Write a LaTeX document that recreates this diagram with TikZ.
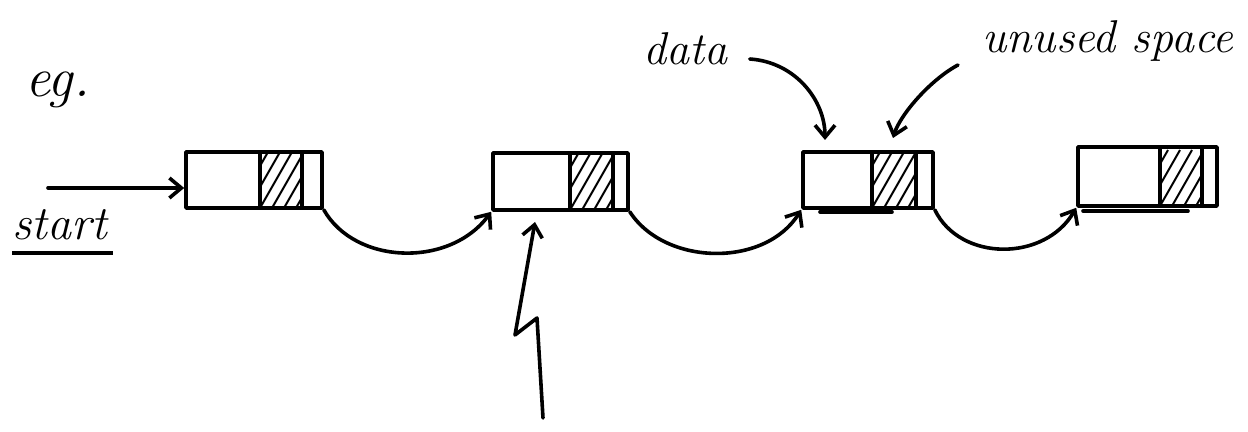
\documentclass[tikz,border=0pt]{standalone}
\usetikzlibrary{arrows.meta}
\begin{document}
\begin{tikzpicture}[x=0.5pt,y=-0.5pt,
  ink/.style={line width=1.8pt, line cap=round, line join=round},
  cell/.style={draw, ink, rectangle, inner sep=0pt},
  hatchline/.style={line width=1pt},
  link/.style={ink, -{Straight Barb[length=6pt,width=10pt]}},
  hand/.style={font=\fontsize{23}{28}\selectfont\itshape, inner sep=0pt}]
\useasboundingbox[fill=white] (0,0) rectangle (1248,432);

% list cells
\node[cell, minimum width=68pt,   minimum height=28pt]   (b1) at (254,180)    {};
\node[cell, minimum width=67.5pt, minimum height=28.5pt] (b2) at (560.5,181.5) {};
\node[cell, minimum width=65pt,   minimum height=28pt]   (b3) at (868,180)    {};
\node[cell, minimum width=69.5pt, minimum height=29.5pt] (b4) at (1147.5,176.5) {};

% hatched (pointer) parts
\foreach \xa/\xb/\yt/\yb in {260/302/152/208, 570/613/153/210, 872/916/152/208, 1160/1202/147/206} {
  \draw[ink] (\xa,\yt) -- (\xa,\yb);
  \draw[ink] (\xb,\yt) -- (\xb,\yb);
  \begin{scope}
    \clip (\xa,\yt) rectangle (\xb,\yb);
    \foreach \k in {-3,...,4} \draw[hatchline] (\xa+\k*12,\yb) -- ++(32,-56);
  \end{scope}
}

% extra underlines
\draw[ink] (820,212) -- (892,212);
\draw[ink] (1083,211) -- (1188,211);

% texts
\node[font=\fontsize{28}{32}\selectfont\itshape, anchor=base west, inner sep=0pt] (eg) at (25,97) {eg.};
\node[font=\fontsize{24}{28}\selectfont\itshape, anchor=base west, inner sep=0pt] (start) at (12,240) {start};
\draw[line width=2pt] ([yshift=-6.5pt]start.base west) -- ([yshift=-6.5pt,xshift=3pt]start.base east);
\node[hand, anchor=base west] (data) at (643,65) {data};
\node[hand, anchor=base west] (unused) at (982,53) {unused space};

% start pointer
\coordinate (s0) at (48,188);
\draw[link] (s0) -- (s0 -| b1.west);

% links between cells
\draw[link] (b1.south east) .. controls (355,265) and (450,268) .. (b2.south west);
\draw[link] (b2.south east) .. controls (665,266) and (765,268) .. (b3.south west);
\draw[link] (b3.south east) .. controls (960,262) and (1045,262) .. (b4.south west);

% label arrows
\coordinate (dtip) at (825,140);
\coordinate (utip) at (893,138);
\draw[link] ([xshift=11pt,yshift=3pt]data.base east) .. controls (795,62) and (825,100) .. (dtip);
\draw[link] ([xshift=-12pt,yshift=-6pt]unused.base west) .. controls (930,80) and (900,115) .. (utip);

% zigzag arrow
\coordinate (z0) at (543,418);
\coordinate (ztip) at (535,222);
\draw[link] (z0) -- (537,318) -- (515,335) -- (ztip);
\end{tikzpicture}
\end{document}
